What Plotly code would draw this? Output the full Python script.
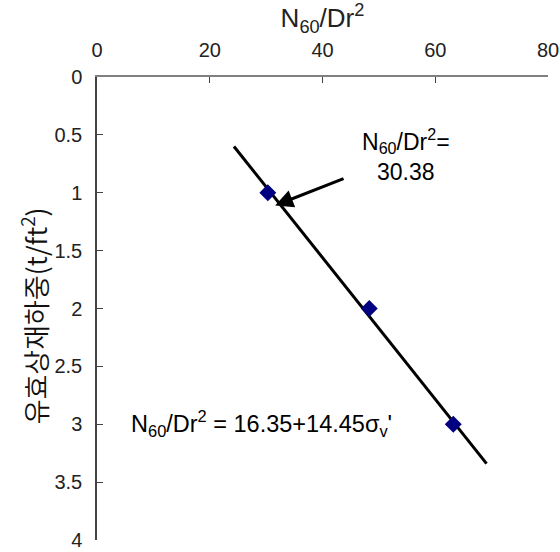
import plotly.graph_objects as go

# Data
point_x = [30.3, 48.3, 63.2]
point_y = [1.0, 2.0, 3.0]
fit_x = [24.3, 69.1]
fit_y = [0.6, 3.34]
x_ticks = [0, 20, 40, 60, 80]
y_ticks = [0, 0.5, 1, 1.5, 2, 2.5, 3, 3.5, 4]
y_tick_labels = ["0", "0.5", "1", "1.5", "2", "2.5", "3", "3.5", "4"]
arrow_head = (31.6, 1.11)
arrow_tail = (44.0, 0.873)

FONT = "Liberation Sans, Arial, Noto Sans CJK KR, sans-serif"
KFONT = "Noto Sans CJK KR, sans-serif"

fig = go.Figure()
fig.add_trace(go.Scatter(x=fit_x, y=fit_y, mode="lines",
                         line=dict(color="black", width=3), showlegend=False))
fig.add_trace(go.Scatter(x=point_x, y=point_y, mode="markers",
                         marker=dict(symbol="diamond", size=13, color="#000080"),
                         showlegend=False))

fig.add_annotation(x=arrow_head[0], y=arrow_head[1], ax=arrow_tail[0], ay=arrow_tail[1],
                   xref="x", yref="y", axref="x", ayref="y", text="",
                   showarrow=True, arrowhead=2, arrowsize=1.2, arrowwidth=3, arrowcolor="black")
fig.add_annotation(x=54.8, y=0.67, xref="x", yref="y", showarrow=False,
                   text="N<sub>60</sub>/Dr<sup>2</sup>=<br>30.38", align="center",
                   font=dict(size=23, color="black", family=FONT))
fig.add_annotation(x=5.7, y=2.99, xref="x", yref="y", showarrow=False, xanchor="left",
                   text="N<sub>60</sub>/Dr<sup>2</sup> = 16.35+14.45σ<sub>v</sub>'",
                   font=dict(size=23.5, color="black", family=FONT))
fig.add_annotation(x=-0.14, y=0.485, xref="paper", yref="paper", showarrow=False,
                   xanchor="center", yanchor="middle",
                   text="유효상재하중(t/ft<sup>2</sup>)", textangle=-90,
                   font=dict(size=27, color="#111", family=KFONT, weight=350))

fig.update_xaxes(side="top", range=[0, 80], tickvals=x_ticks, ticks="inside", ticklen=6,
                 tickcolor="#444", showline=True, linecolor="#808080", linewidth=1.5,
                 showgrid=False, zeroline=False, automargin=False, ticklabelstandoff=10,
                 tickfont=dict(size=20, color="#222", family=FONT),
                 title=dict(text="N<sub>60</sub>/Dr<sup>2</sup>", standoff=4,
                            font=dict(size=26, color="#222", family=FONT)))
fig.update_yaxes(range=[4, 0], tickvals=y_ticks, ticktext=y_tick_labels, ticks="inside",
                 ticklen=6, tickcolor="#444", showline=True, linecolor="#444", linewidth=1.5,
                 showgrid=False, zeroline=False, ticklabelstandoff=9, automargin=False,
                 tickfont=dict(size=20, color="#222", family=FONT))

fig.update_layout(width=560, height=552, margin=dict(l=97, r=12, t=77, b=12),
                  plot_bgcolor="white", paper_bgcolor="white")
fig.write_html("out.html", config={"displayModeBar": False},
               post_script="document.body.style.margin='0';document.body.style.overflow='hidden';")
